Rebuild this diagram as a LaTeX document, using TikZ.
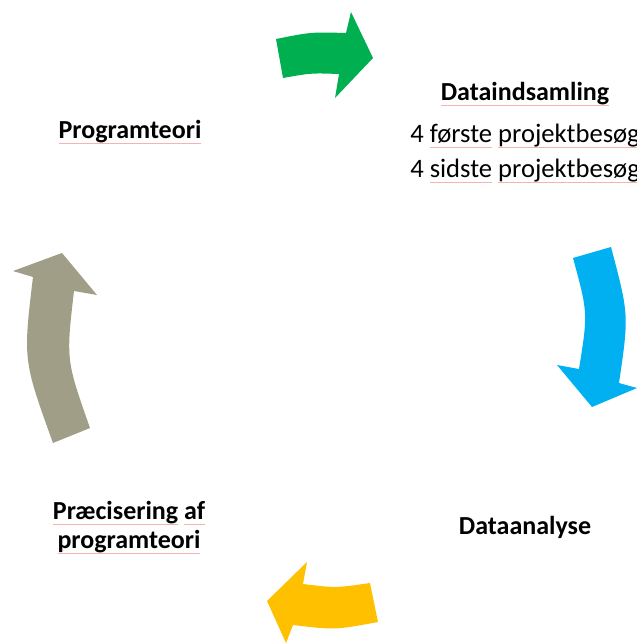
\documentclass[tikz,border=0pt]{standalone}
\usepackage{fontspec}
\setmainfont{Carlito}
\usepackage{tikz}
\usetikzlibrary{positioning}
\definecolor{cyclegreen}{HTML}{00B050}
\definecolor{cycleblue}{HTML}{00B0F0}
\definecolor{cycleorange}{HTML}{FFC000}
\definecolor{cyclegray}{HTML}{A09E87}
\definecolor{spellred}{HTML}{F4B4B4}
\newsavebox{\spellbox}
\newcommand{\spell}[1]{\sbox{\spellbox}{#1}\rlap{\color{spellred}\rule[-5.5pt]{\wd\spellbox}{0.6pt}}\usebox{\spellbox}}
\tikzstyle{headtext} = [anchor=base, inner sep=0pt, font=\fontsize{26}{31}\selectfont\bfseries]
\tikzstyle{bodytext} = [anchor=base, inner sep=0pt, font=\fontsize{26.6}{31}\selectfont]
\tikzstyle{greenarrow} = [fill=cyclegreen]
\tikzstyle{bluearrow} = [fill=cycleblue]
\tikzstyle{orangearrow} = [fill=cycleorange]
\tikzstyle{grayarrow} = [fill=cyclegray]

\begin{document}
\begin{tikzpicture}[x=1pt, y=-1pt]
\useasboundingbox (0,0) rectangle (637,643);
% cycle arrows
\path [greenarrow] (276,39) .. controls (311,32) .. (346,33) -- (351,12) -- (373,58) -- (335,98) -- (339,74) .. controls (311,73) .. (283,78) -- cycle;
\path [bluearrow] (573,258) -- (611,247) .. controls (629,315) .. (619,383) -- (637,388) -- (592,407) -- (557,365) -- (579,369) .. controls (588,313) .. cycle;
\path [orangearrow] (370,583) -- (378,622) .. controls (335,630) .. (293,625) -- (286,643) -- (267,601) -- (307,562) -- (303,584) .. controls (336,588) .. cycle;
\path [grayarrow] (53,443) -- (90,428) .. controls (66,360) .. (74,291) -- (97,295) -- (62,253) -- (13,271) -- (33,277) .. controls (23,360) .. cycle;

% texts
\node (prog) [headtext] at (130,138) {\spell{Programteori}};
\node (collect) [headtext] at (525,100) {\spell{Dataindsamling}};
\node (first) [bodytext] at (525,142) {4 \spell{første} \spell{projektbesøg}};
\node (last) [bodytext] at (525,177) {4 \spell{sidste} \spell{projektbesøg}};
\node (analysis) [headtext] at (525,534) {Dataanalyse};
\node (refine) [headtext] at (129,519) {\spell{Præcisering} \spell{af}};
\node (refine2) [headtext] at (129,548) {\spell{programteori}};
\end{tikzpicture}
\end{document}
